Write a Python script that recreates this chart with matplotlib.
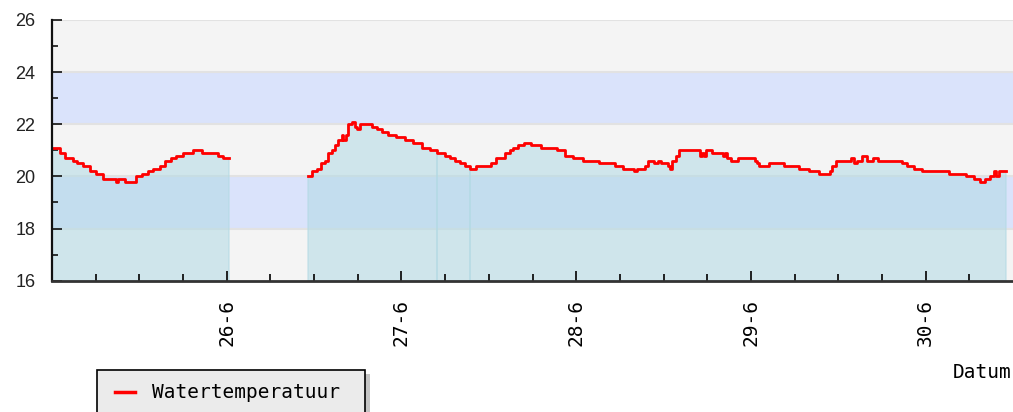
import matplotlib
matplotlib.use("Agg")
import matplotlib.pyplot as plt
from matplotlib.patches import Rectangle
from matplotlib.lines import Line2D
import numpy as np

# watertemperatuur, uren sinds 25-6 00:00
seg1_hours = [0, 1.1, 1.8, 2.9, 3.4, 4.3, 5.2, 6.1, 7.0, 8.8, 9.1, 10.0, 11.5, 12.3,
              13.2, 13.9, 14.8, 15.5, 16.4, 17.1, 18.0, 19.4, 20.6, 22.8, 23.5, 24.35]
seg1_temps = [21.1, 20.9, 20.7, 20.6, 20.5, 20.4, 20.2, 20.1, 19.9, 19.8, 19.9, 19.8, 20.0, 20.1,
              20.2, 20.3, 20.4, 20.6, 20.7, 20.8, 20.9, 21.0, 20.9, 20.8, 20.7, 20.7]

seg2_hours = [35.2, 35.7, 36.4, 37.0, 37.5, 37.9, 38.4, 38.9, 39.3, 39.8, 40.0, 40.4, 40.7,
              41.2, 41.6, 41.9, 42.3, 43.9, 44.6, 45.3, 46.2, 47.3, 48.5, 49.6, 50.8, 51.9,
              52.9, 54.0, 54.7, 55.3, 56.0, 56.7, 57.4, 58.3, 60.3, 61.0, 62.2, 62.9, 63.3,
              64.0, 64.9, 65.8, 67.2, 69.3, 70.4, 71.6, 72.9, 75.2, 77.3, 78.4, 79.9, 80.4,
              81.4, 81.9, 82.7, 83.3, 83.7, 84.6, 84.9, 85.2, 85.7, 86.1, 89.0, 89.3, 89.6,
              89.9, 90.7, 92.1, 92.4, 92.7, 93.3, 94.2, 96.5, 96.9, 97.1, 98.5, 100.6, 102.6,
              104.0, 105.4, 106.8, 107.2, 107.7, 109.7, 110.2, 110.6, 111.2, 111.9, 112.8,
              113.5, 116.8, 117.5, 118.4, 119.5, 123.2, 125.5, 126.6, 127.5, 128.2, 128.9,
              129.4, 129.7, 130.1, 131.0]
seg2_temps = [20.0, 20.2, 20.3, 20.5, 20.6, 20.9, 21.0, 21.2, 21.4, 21.6, 21.4, 21.6, 22.0,
              22.1, 21.9, 21.8, 22.0, 21.9, 21.8, 21.7, 21.6, 21.5, 21.4, 21.3, 21.1, 21.0,
              20.9, 20.8, 20.7, 20.6, 20.5, 20.4, 20.3, 20.4, 20.5, 20.7, 20.9, 21.0, 21.1,
              21.2, 21.3, 21.2, 21.1, 21.0, 20.8, 20.7, 20.6, 20.5, 20.4, 20.3, 20.2, 20.3,
              20.4, 20.6, 20.5, 20.6, 20.5, 20.4, 20.3, 20.6, 20.8, 21.0, 20.8, 20.9, 20.8,
              21.0, 20.9, 20.8, 20.9, 20.7, 20.6, 20.7, 20.6, 20.5, 20.4, 20.5, 20.4, 20.3,
              20.2, 20.1, 20.2, 20.4, 20.6, 20.7, 20.5, 20.6, 20.8, 20.6, 20.7,
              20.6, 20.5, 20.4, 20.3, 20.2, 20.1, 20.0, 19.9, 19.8, 19.9, 20.0,
              20.2, 20.0, 20.2, 20.2]

fill_breaks = [52.9, 57.4]

day_hours = [24, 48, 72, 96, 120]
day_labels = ["26-6", "27-6", "28-6", "29-6", "30-6"]
y_ticks = [16, 18, 20, 22, 24, 26]

W, H = 1013, 412
fig = plt.figure(figsize=(W / 100, H / 100), dpi=100)
ax = fig.add_axes([52 / W, (H - 280.7) / H, (W - 52) / W, (280.7 - 20) / H])

# achtergrond banden
gray = "#f4f4f4"
blue = "#dae3fb"
for lo, c in zip([16, 18, 20, 22, 24], [gray, blue, gray, blue, gray]):
    ax.axhspan(lo, lo + 2, color=c, lw=0, zorder=0)
for y in [18, 20, 22, 24, 26]:
    ax.axhline(y, color="#e2e2e2", lw=1.5, zorder=0.5)

fill_c = "#b2dae4"
h1, t1 = np.array(seg1_hours), np.array(seg1_temps)
h2, t2 = np.array(seg2_hours), np.array(seg2_temps)

pieces = [(h1, t1)]
edges = [h2[0]] + fill_breaks + [h2[-1]]
for a, b in zip(edges[:-1], edges[1:]):
    m = (h2 >= a) & (h2 <= b)
    pieces.append((h2[m], t2[m]))
for hh, tt in pieces:
    ax.fill_between(hh, 16, tt, step="post", facecolor=fill_c, edgecolor=fill_c,
                    alpha=0.56, lw=1.2, zorder=1)

ax.plot(h1, t1, color="red", lw=2.0, drawstyle="steps-post", zorder=3)
ax.plot(h2, t2, color="red", lw=2.0, drawstyle="steps-post", zorder=3)

ax.set_xlim(0, 132)
ax.set_ylim(16, 26)
ax.set_facecolor("white")

for s in ["top", "right"]:
    ax.spines[s].set_visible(False)
ax.spines["left"].set_color("#111111")
ax.spines["left"].set_linewidth(1.6)
ax.spines["bottom"].set_color("#333333")
ax.spines["bottom"].set_linewidth(2)
ax.spines["left"].set_zorder(4)
ax.spines["bottom"].set_zorder(4)

ax.set_yticks(y_ticks)
ax.set_yticklabels([str(v) for v in y_ticks], fontsize=13, family="Liberation Sans", color="#222222")
ax.set_yticks(np.arange(17, 26, 2), minor=True)
ax.set_xticks(day_hours)
ax.set_xticklabels(day_labels, rotation=90, fontsize=14, family="DejaVu Sans Mono")
ax.set_xticks(np.arange(6, 132, 6), minor=True)
ax.tick_params(axis="y", which="major", direction="in", length=7.5, width=1.2, pad=12, color="#111111")
ax.tick_params(axis="y", which="minor", direction="in", length=4.5, width=1.2, color="#111111")
ax.tick_params(axis="x", which="major", direction="in", length=7.5, width=1.3, pad=13, color="#111111")
ax.tick_params(axis="x", which="minor", direction="in", length=5, width=1.3, color="#111111")
for t in ax.get_xticklabels():
    t.set_verticalalignment("top")

fig.text(1011 / W, (H - 372) / H, "Datum", ha="right", va="center", fontsize=14,
         family="DejaVu Sans Mono")


def px(x, y):
    return x / W, (H - y) / H


# legenda
sx, sy = px(102, 374)
fig.patches.append(Rectangle((sx, sy - 0.2), (370 - 102) / W, 0.2, transform=fig.transFigure,
                             facecolor="#c4c4c4", edgecolor="none", zorder=1))
bx, by = px(97, 370)
fig.patches.append(Rectangle((bx, by - 0.2), (365 - 97) / W, 0.2, transform=fig.transFigure,
                             facecolor="#ebebeb", edgecolor="black", lw=1.2, zorder=2))
lx0, ly = px(115, 392)
lx1, _ = px(135, 392)
fig.lines.append(Line2D([lx0, lx1], [ly, ly], transform=fig.transFigure, color="red", lw=2.5, zorder=3))
tx, _ = px(152, 392)
fig.text(tx, ly, "Watertemperatuur", ha="left", va="center", fontsize=14,
         family="DejaVu Sans Mono", zorder=3)

fig.savefig("out.png", dpi=100)
